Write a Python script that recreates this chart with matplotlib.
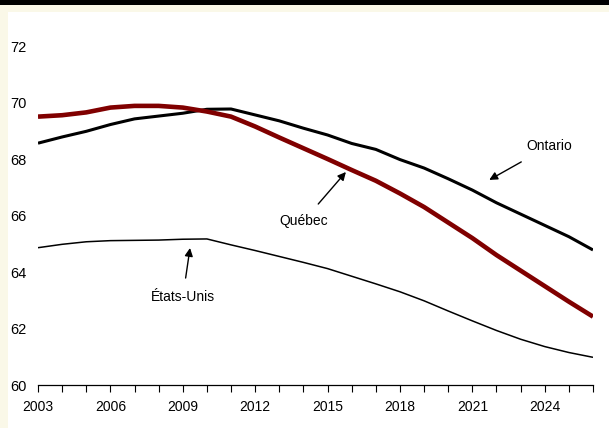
import numpy as np
import matplotlib.pyplot as plt
from matplotlib.patches import Rectangle

plt.rcParams['font.family'] = ['Liberation Sans', 'DejaVu Sans']

# données
annees = list(range(2003, 2027))
quebec = [69.50, 69.55, 69.65, 69.82, 69.88, 69.88, 69.82, 69.68, 69.50, 69.15,
          68.76, 68.38, 68.00, 67.61, 67.23, 66.78, 66.30, 65.75, 65.20, 64.60,
          64.05, 63.50, 62.95, 62.42]
ontario = [68.56, 68.78, 68.98, 69.22, 69.42, 69.52, 69.62, 69.76, 69.77, 69.56,
           69.35, 69.09, 68.85, 68.55, 68.34, 67.98, 67.68, 67.30, 66.90, 66.45,
           66.05, 65.65, 65.25, 64.78]
etats_unis = [64.86, 64.98, 65.07, 65.11, 65.12, 65.13, 65.16, 65.17, 64.96, 64.76,
              64.55, 64.34, 64.12, 63.85, 63.58, 63.30, 62.98, 62.62, 62.27, 61.93,
              61.62, 61.36, 61.15, 60.98]
etiquettes_x = list(range(2003, 2027, 3))
etiquettes_y = [60, 62, 64, 66, 68, 70, 72]

fig = plt.figure(figsize=(6.09, 4.28), dpi=100)
fig.patch.set_facecolor('#faf8e8')
# fond blanc et bande noire en haut
fig.patches.append(Rectangle((8 / 609, 0), 1, 1 - 12 / 428, transform=fig.transFigure,
                             facecolor='white', edgecolor='none', zorder=-10))
fig.patches.append(Rectangle((0, 1 - 5 / 428), 1, 5 / 428, transform=fig.transFigure,
                             facecolor='black', edgecolor='none', zorder=-10))

ax = fig.add_axes([38 / 609, 1 - 385 / 428, 555 / 609, 339 / 428])
ax.set_facecolor('none')
ax.set_zorder(5)

ax.plot(annees, ontario, color='black', lw=2.2, solid_capstyle='butt')
ax.plot(annees, quebec, color='#800000', lw=3.3, solid_capstyle='butt')
ax.plot(annees, etats_unis, color='black', lw=1.1, solid_capstyle='butt')

ax.set_xlim(2003, 2026)
ax.set_ylim(60, 72)
ax.set_xticks(annees, minor=False)
ax.set_xticklabels([str(a) if a in etiquettes_x else '' for a in annees])
ax.set_yticks(etiquettes_y)
ax.tick_params(axis='x', direction='out', length=5, width=0.8, pad=6, labelsize=10)
ax.tick_params(axis='y', length=0, pad=8, labelsize=10.5)
for s in ['top', 'right', 'left']:
    ax.spines[s].set_visible(False)
ax.spines['bottom'].set_linewidth(0.9)

fleche = dict(arrowstyle='-|>', color='black', lw=1.0, mutation_scale=12)
ax.annotate('Ontario', xy=(2021.7, 67.26), xytext=(2024.2, 68.46), fontsize=10,
            ha='center', va='center', arrowprops=dict(fleche, shrinkA=9, shrinkB=0))
ax.annotate('Québec', xy=(2015.76, 67.54), xytext=(2014.0, 65.8), fontsize=10,
            ha='center', va='center', arrowprops=dict(fleche, shrinkA=7, shrinkB=0))
ax.annotate('États-Unis', xy=(2009.3, 64.85), xytext=(2009.0, 63.1), fontsize=10,
            ha='center', va='center', arrowprops=dict(fleche, shrinkA=7, shrinkB=0))

fig.savefig('out.png', dpi=100, facecolor=fig.get_facecolor())
